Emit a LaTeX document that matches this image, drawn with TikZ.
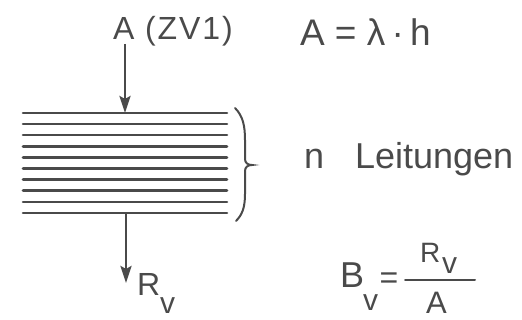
\documentclass[tikz,border=0pt]{standalone}
\usepackage{fontspec}
\setmainfont{Liberation Sans}
\usetikzlibrary{arrows.meta}
\definecolor{ink}{HTML}{4A4A4A}
\tikzset{
  lbl/.style={inner sep=0pt, outer sep=0pt, anchor=base west, text=ink},
  wire/.style={draw=ink, line width=2.6pt, line cap=round},
  flow/.style={draw=ink, line width=2.8pt, -{Stealth[length=17pt,width=11pt,inset=3pt]}},
  brc/.style={draw=ink, line width=2pt, line cap=round}
}
\begin{document}
\begin{tikzpicture}[x=1pt,y=-1pt]
\useasboundingbox (0,0) rectangle (522,320);
% conductors
\foreach \i/\yy in {1/113,2/124.1,3/135.2,4/146.3,5/157.4,6/168.6,7/179.7,8/190.8,9/201.9,10/213}{
  \coordinate (l\i w) at (23,\yy);
  \coordinate (l\i e) at (227,\yy);
  \draw[wire] (l\i w) -- (l\i e);
}
% labels left
\node[lbl, font=\fontsize{32}{36}\selectfont\addfontfeature{LetterSpace=6}] (zv) at (113,40) {A (ZV1)};
\coordinate (inS) at (125,44);
\coordinate (inE) at (125,113);
\draw[flow] (inS) -- (inE);
\coordinate (outS) at (126,213);
\coordinate (outE) at (126,283);
\draw[flow] (outS) -- (outE);
\node[lbl, font=\fontsize{32}{36}\selectfont] (rv) at (137,295) {R};
\node[lbl, font=\fontsize{30}{36}\selectfont] (rvs) at (160,314) {v};
% brace
\draw[brc] (235,108) .. controls (243,116) and (245,126) .. (245,140) -- (245,159)
  .. controls (245,163) and (248,165) .. (252,165)
  .. controls (248,165) and (245,167) .. (245,171) -- (245,194)
  .. controls (245,208) and (242,215) .. (236,221);
% right text
\node[lbl, font=\fontsize{37}{40}\selectfont] (eqA) at (300,46) {A = λ\,·\,h};
\node[lbl, font=\fontsize{36}{40}\selectfont] (nl) at (304,169) {n\hspace{31pt}Leitungen};
% B_v = R_v / A
\node[lbl, font=\fontsize{36}{40}\selectfont] (bb) at (340,288) {B};
\node[lbl, font=\fontsize{30}{36}\selectfont] (bbs) at (363,310) {v};
\node[lbl, font=\fontsize{32}{36}\selectfont, anchor=center] (eq) at (389,281) {=};
\coordinate (fracW) at (405,280);
\coordinate (fracE) at (475,280);
\draw[brc] (fracW) -- (fracE);
\node[lbl, font=\fontsize{28}{32}\selectfont] (nr) at (420,263) {R};
\node[lbl, font=\fontsize{30}{36}\selectfont] (nrs) at (442,274) {v};
\node[lbl, font=\fontsize{31}{36}\selectfont] (den) at (426,314) {A};
\end{tikzpicture}
\end{document}
